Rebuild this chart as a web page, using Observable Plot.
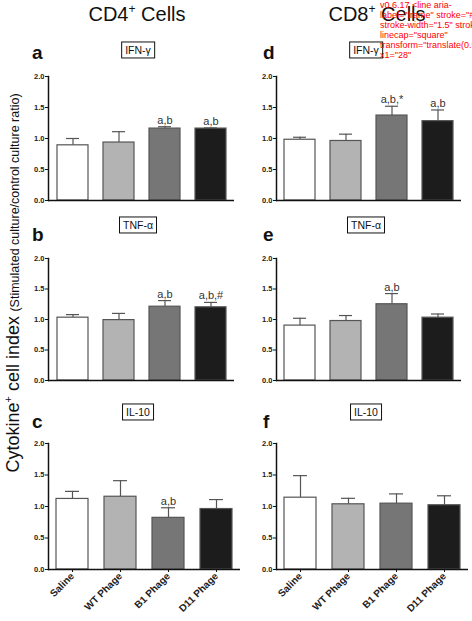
<!DOCTYPE html>
<html>
<head>
<meta charset="utf-8">
<script src="https://cdn.jsdelivr.net/npm/d3@7"></script>
<script src="https://cdn.jsdelivr.net/npm/@observablehq/plot@0.6"></script>
<style>
  body { margin: 0; background: #fff; }
  #root { position: relative; width: 472px; height: 621px; background: #fff; font-family: "Liberation Sans", Arial, sans-serif; color: #111; overflow: hidden; }
  .abs { position: absolute; }
  .coltitle { font-size: 20px; white-space: nowrap; transform: translateX(-50%); line-height: 1; }
  .coltitle sup { font-size: 12px; vertical-align: 0; position: relative; top: -8px; }
  .letter { font-size: 19px; font-weight: bold; line-height: 1; }
  .box { border: 1.6px solid #111; font-size: 10.5px; padding: 2px 3px 1px 3px; line-height: 1.15; transform: translate(-50%, -50%); white-space: nowrap; background: #fff; }
  .ytitle { white-space: nowrap; line-height: 1; transform: translate(-50%, -50%) rotate(-90deg); }
  .ytitle .big { font-size: 18px; }
  .ytitle .big sup { font-size: 11px; vertical-align: 0; position: relative; top: -7px; }
  .ytitle .small { font-size: 12.5px; }
  #dbg { position: absolute; left: 380px; top: 0; font-size: 9px; color: red; }
</style>
</head>
<body>
<div id="root"></div>
<script>
// ---- data ----
const groups = ["Saline", "WT Phage", "B1 Phage", "D11 Phage"];
const groupColors = ["#ffffff", "#b3b3b3", "#767676", "#1c1c1c"];

const cd4IfnMean = [0.89, 0.935, 1.16, 1.16];
const cd4IfnSem  = [0.11, 0.175, 0.03, 0.01];
const cd4IfnSig  = ["", "", "a,b", "a,b"];

const cd4TnfMean = [1.03, 0.99, 1.21, 1.20];
const cd4TnfSem  = [0.05, 0.11, 0.10, 0.08];
const cd4TnfSig  = ["", "", "a,b", "a,b,#"];

const cd4Il10Mean = [1.12, 1.155, 0.82, 0.96];
const cd4Il10Sem  = [0.12, 0.255, 0.16, 0.15];
const cd4Il10Sig  = ["", "", "a,b", ""];

const cd8IfnMean = [0.98, 0.96, 1.37, 1.28];
const cd8IfnSem  = [0.04, 0.11, 0.15, 0.18];
const cd8IfnSig  = ["", "", "a,b,*", "a,b"];

const cd8TnfMean = [0.90, 0.975, 1.25, 1.03];
const cd8TnfSem  = [0.12, 0.09, 0.175, 0.06];
const cd8TnfSig  = ["", "", "a,b", ""];

const cd8Il10Mean = [1.14, 1.035, 1.045, 1.02];
const cd8Il10Sem  = [0.35, 0.095, 0.155, 0.15];
const cd8Il10Sig  = ["", "", "", ""];

const yTicks = [0, 0.5, 1.0, 1.5, 2.0];
const columnTitles = ["CD4", "CD8"];
const cytokines = ["IFN-γ", "TNF-α", "IL-10"];
const panelLetters = [["a", "b", "c"], ["d", "e", "f"]];

// ---- layout ----
const root = document.getElementById("root");
const FONT = '"Liberation Sans", Arial, sans-serif';

function rowsOf(mean, sem, sig) {
  return groups.map((g, i) => ({group: g, mean: mean[i], sem: sem[i], sig: sig[i]}));
}

function makePanel({rows, left, top, width, plotHeight, marginRight, bottomAxis}) {
  const marginTop = 10;
  const marginBottom = bottomAxis ? 50 : 4;
  const hi = d => d.mean + d.sem;
  const marks = [
    Plot.frame({anchor: "left", stroke: "#111", strokeWidth: 1.5}),
    Plot.ruleX(rows, {x: "group", y1: "mean", y2: hi, stroke: "#555", strokeWidth: 1.2}),
    Plot.tickY(rows, {x: "group", y: hi, stroke: "#555", strokeWidth: 1.2, insetLeft: 9, insetRight: 9}),
    Plot.barY(rows, {x: "group", y: "mean", fill: "group", stroke: "#555", strokeWidth: 1.2}),
    Plot.text(rows.filter(d => d.sig), {x: "group", y: hi, text: "sig", lineAnchor: "bottom", dy: -3, fontSize: 11, fontWeight: "normal", fill: "#333"}),
    Plot.axisY({ticks: yTicks, tickFormat: d3.format(".1f"), tickSize: 3, tickPadding: 1, label: null, fontWeight: "bold", fontSize: 7.5, stroke: "#111", fill: "#222"}),
    Plot.ruleY([0], {stroke: "#111", strokeWidth: 1.6})
  ];
  if (bottomAxis) {
    marks.push(Plot.axisX({tickSize: 3, tickRotate: -45, tickPadding: 2, label: null, fontWeight: "bold", fontSize: 10, fill: "#222", stroke: "#111"}));
  }
  const svg = Plot.plot({
    width, height: marginTop + plotHeight + marginBottom,
    marginTop, marginBottom, marginLeft: 28, marginRight,
    style: {fontFamily: FONT, background: "transparent", overflow: "visible"},
    x: {type: "band", domain: groups, paddingInner: 0.33, paddingOuter: 0.165, axis: null},
    y: {domain: [0, 2], axis: null},
    color: {domain: groups, range: groupColors},
    marks
  });
  const holder = document.createElement("div");
  holder.className = "abs";
  holder.style.left = left + "px";
  holder.style.top = top + "px";
  holder.appendChild(svg);
  root.appendChild(holder);
  return svg;
}

function addHTML(cls, html, left, top) {
  const el = document.createElement("div");
  el.className = "abs " + cls;
  el.style.left = left + "px";
  el.style.top = top + "px";
  el.innerHTML = html;
  root.appendChild(el);
  return el;
}

// column titles
addHTML("coltitle", columnTitles[0] + "<sup>+</sup> Cells", 137, 4);
addHTML("coltitle", columnTitles[1] + "<sup>+</sup> Cells", 377, 4);

// y title
addHTML("ytitle", '<span class="big">Cytokine<sup>+</sup> cell index</span> <span class="small">(Stimulated culture/control culture ratio)</span>', 13, 283);

const data = [
  [rowsOf(cd4IfnMean, cd4IfnSem, cd4IfnSig), rowsOf(cd4TnfMean, cd4TnfSem, cd4TnfSig), rowsOf(cd4Il10Mean, cd4Il10Sem, cd4Il10Sig)],
  [rowsOf(cd8IfnMean, cd8IfnSem, cd8IfnSig), rowsOf(cd8TnfMean, cd8TnfSem, cd8TnfSig), rowsOf(cd8Il10Mean, cd8Il10Sem, cd8Il10Sig)]
];

const colLeft = [20, 248];
const rowTop = [66, 248, 433];
const rowPlotH = [124, 122, 126];
const letterTop = [43, 225, 412];
const boxCenterY = [50, 225, 412];
const boxCenterX = [138, 366];
const letterX = [32, 263];

let firstSvg = null;
for (let c = 0; c < 2; c++) {
  for (let r = 0; r < 3; r++) {
    const bottom = r === 2;
    const s = makePanel({
      rows: data[c][r],
      left: colLeft[c],
      top: rowTop[r],
      width: bottom ? 222 : 216,
      plotHeight: rowPlotH[r],
      marginRight: bottom ? 2 : (c === 0 ? 2 : 3),
      bottomAxis: bottom
    });
    if (!firstSvg) firstSvg = s;
    addHTML("letter", panelLetters[c][r], letterX[c], letterTop[r]);
    addHTML("box", cytokines[r], boxCenterX[c], boxCenterY[r]);
  }
}
const fr = firstSvg.querySelector('[aria-label="frame"]');
const dbg = document.createElement("div");
dbg.id = "dbg";
dbg.textContent = "v" + Plot.version + " " + (fr ? fr.outerHTML.slice(0, 120) : "noframe");
root.appendChild(dbg);
</script>
</body>
</html>
